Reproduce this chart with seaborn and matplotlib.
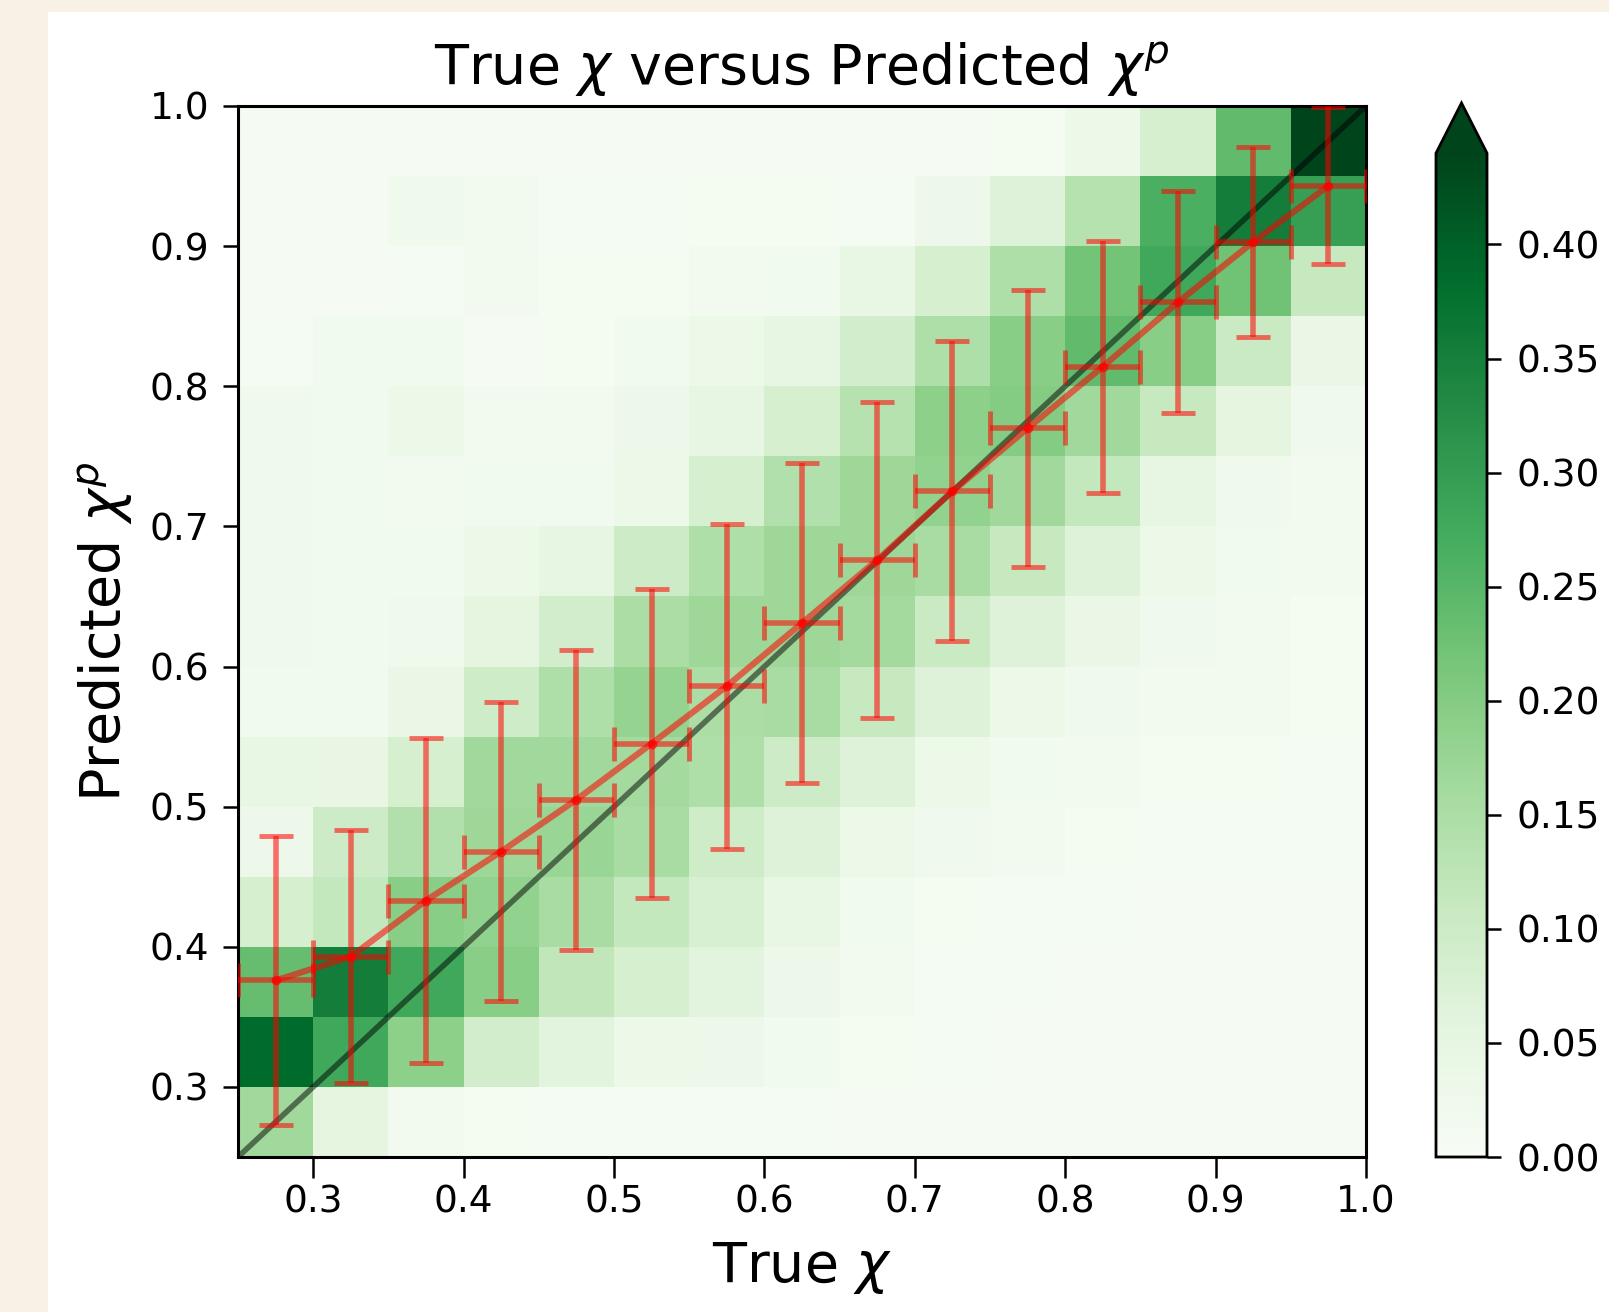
import numpy as np
import pandas as pd
import matplotlib
matplotlib.use("Agg")
import matplotlib.pyplot as plt
from matplotlib.patches import Rectangle
import seaborn as sns

# ---- data -------------------------------------------------------------
bin_edges = [0.25, 0.30, 0.35, 0.40, 0.45, 0.50, 0.55, 0.60, 0.65,
             0.70, 0.75, 0.80, 0.85, 0.90, 0.95, 1.00]
# fraction per cell, one list per predicted-chi bin (bottom to top),
# each entry one true-chi bin (left to right)
pred_025 = [0.165, 0.055, 0.015, 0.012, 0.010, 0.010, 0.010, 0.010, 0.008, 0.008, 0.007, 0.006, 0.006, 0.006, 0.006]
pred_030 = [0.385, 0.280, 0.190, 0.090, 0.060, 0.035, 0.030, 0.020, 0.012, 0.010, 0.008, 0.008, 0.007, 0.007, 0.006]
pred_035 = [0.235, 0.355, 0.280, 0.195, 0.120, 0.085, 0.060, 0.030, 0.015, 0.010, 0.009, 0.008, 0.008, 0.007, 0.007]
pred_040 = [0.085, 0.115, 0.195, 0.185, 0.155, 0.115, 0.080, 0.045, 0.020, 0.012, 0.010, 0.010, 0.008, 0.008, 0.008]
pred_045 = [0.030, 0.100, 0.140, 0.170, 0.175, 0.155, 0.095, 0.070, 0.035, 0.022, 0.015, 0.012, 0.010, 0.010, 0.010]
pred_050 = [0.045, 0.048, 0.085, 0.165, 0.165, 0.160, 0.145, 0.100, 0.070, 0.035, 0.018, 0.015, 0.012, 0.012, 0.010]
pred_055 = [0.020, 0.020, 0.040, 0.095, 0.145, 0.180, 0.150, 0.155, 0.110, 0.070, 0.035, 0.022, 0.016, 0.014, 0.012]
pred_060 = [0.025, 0.020, 0.025, 0.055, 0.090, 0.150, 0.170, 0.170, 0.160, 0.105, 0.070, 0.040, 0.022, 0.016, 0.012]
pred_065 = [0.025, 0.020, 0.020, 0.035, 0.050, 0.100, 0.145, 0.170, 0.170, 0.155, 0.110, 0.070, 0.035, 0.020, 0.015]
pred_070 = [0.025, 0.020, 0.015, 0.020, 0.020, 0.035, 0.085, 0.140, 0.170, 0.185, 0.165, 0.115, 0.050, 0.025, 0.015]
pred_075 = [0.025, 0.020, 0.035, 0.015, 0.015, 0.030, 0.050, 0.085, 0.135, 0.190, 0.200, 0.165, 0.110, 0.055, 0.022]
pred_080 = [0.010, 0.020, 0.020, 0.008, 0.012, 0.020, 0.035, 0.050, 0.090, 0.145, 0.195, 0.240, 0.195, 0.105, 0.040]
pred_085 = [0.008, 0.008, 0.010, 0.015, 0.012, 0.012, 0.015, 0.020, 0.045, 0.085, 0.145, 0.220, 0.280, 0.225, 0.110]
pred_090 = [0.008, 0.008, 0.025, 0.015, 0.010, 0.010, 0.012, 0.012, 0.010, 0.030, 0.070, 0.135, 0.265, 0.355, 0.295]
pred_095 = [0.008, 0.008, 0.008, 0.008, 0.008, 0.008, 0.008, 0.008, 0.008, 0.008, 0.012, 0.035, 0.085, 0.240, 0.500]

# mean and spread of predicted chi in each true-chi bin
true_centers = [0.275, 0.325, 0.375, 0.425, 0.475, 0.525, 0.575, 0.625,
                0.675, 0.725, 0.775, 0.825, 0.875, 0.925, 0.975]
pred_mean = [0.376, 0.393, 0.433, 0.468, 0.505, 0.545, 0.586, 0.631,
             0.676, 0.725, 0.770, 0.814, 0.860, 0.903, 0.943]
pred_std = [0.103, 0.090, 0.116, 0.107, 0.107, 0.110, 0.116, 0.114,
            0.113, 0.107, 0.099, 0.090, 0.079, 0.068, 0.056]
bin_half = 0.025

x_ticks = [0.3, 0.4, 0.5, 0.6, 0.7, 0.8, 0.9, 1.0]
y_ticks = [0.3, 0.4, 0.5, 0.6, 0.7, 0.8, 0.9, 1.0]
cbar_ticks = [0.00, 0.05, 0.10, 0.15, 0.20, 0.25, 0.30, 0.35, 0.40]

# ---- figure ------------------------------------------------------------
W, H = 1609, 1312
fig = plt.figure(figsize=(W / 100, H / 100), dpi=100)
fig.patch.set_facecolor("#f9f1e6")
fig.patches.append(Rectangle((48 / W, 0), 1 - 48 / W, 1 - 12 / H,
                             transform=fig.transFigure, facecolor="white",
                             edgecolor="none", zorder=-10))

rect = [238 / W, (H - 1157) / H, 1128 / W, 1051 / H]
ax_hm = fig.add_axes(rect)
cax = fig.add_axes([1436 / W, (H - 1157) / H, 51 / W, 1054 / H])

rows_bottom_up = [pred_025, pred_030, pred_035, pred_040, pred_045, pred_050,
                  pred_055, pred_060, pred_065, pred_070, pred_075, pred_080,
                  pred_085, pred_090, pred_095]
centers = [round((a + b) / 2, 3) for a, b in zip(bin_edges[:-1], bin_edges[1:])]
df = pd.DataFrame(rows_bottom_up[::-1], index=centers[::-1], columns=centers)

sns.heatmap(df, ax=ax_hm, cmap="Greens", vmin=0, vmax=0.44,
            cbar_ax=cax, cbar_kws={"extend": "max", "ticks": cbar_ticks},
            xticklabels=False, yticklabels=False)
ax_hm.set_xlabel("")
ax_hm.set_ylabel("")
ax_hm.tick_params(left=False, bottom=False)

# colorbar styling
cb = ax_hm.collections[0].colorbar
cb.outline.set_linewidth(2.0)
cb.outline.set_edgecolor("black")
cax.tick_params(labelsize=27, length=10, width=1.8, pad=11)
cb.ax.yaxis.set_major_formatter(matplotlib.ticker.FormatStrFormatter("%.2f"))

# overlay axes in data coordinates
ax = fig.add_axes(rect)
ax.set_facecolor("none")
ax.set_xlim(0.25, 1.0)
ax.set_ylim(0.25, 1.0)
ax.plot([0.25, 1.0], [0.25, 1.0], color="black", alpha=0.5, lw=4.0, zorder=3)
ax.errorbar(true_centers, pred_mean, xerr=bin_half, yerr=pred_std,
            color="red", alpha=0.55, lw=4.5, elinewidth=4.0, capsize=12,
            capthick=3.5, marker="o", ms=6, zorder=4)

for s in ax.spines.values():
    s.set_linewidth(2.2)
ax.set_xticks(x_ticks)
ax.set_yticks(y_ticks)
ax.set_xticklabels([f"{v:.1f}" for v in x_ticks])
ax.set_yticklabels([f"{v:.1f}" for v in y_ticks])
ax.tick_params(axis="x", labelsize=27, length=15, width=1.8, pad=5)
ax.tick_params(axis="y", labelsize=27, length=10.8, width=1.8, pad=10)

ax.set_title(r"True $\chi$ versus Predicted $\chi^p$", fontsize=40, pad=15)
ax.set_xlabel(r"True $\chi$", fontsize=40, labelpad=14)
ax.set_ylabel(r"Predicted $\chi^p$", fontsize=40, labelpad=10)

fig.savefig("out.png", dpi=100, facecolor=fig.get_facecolor())
